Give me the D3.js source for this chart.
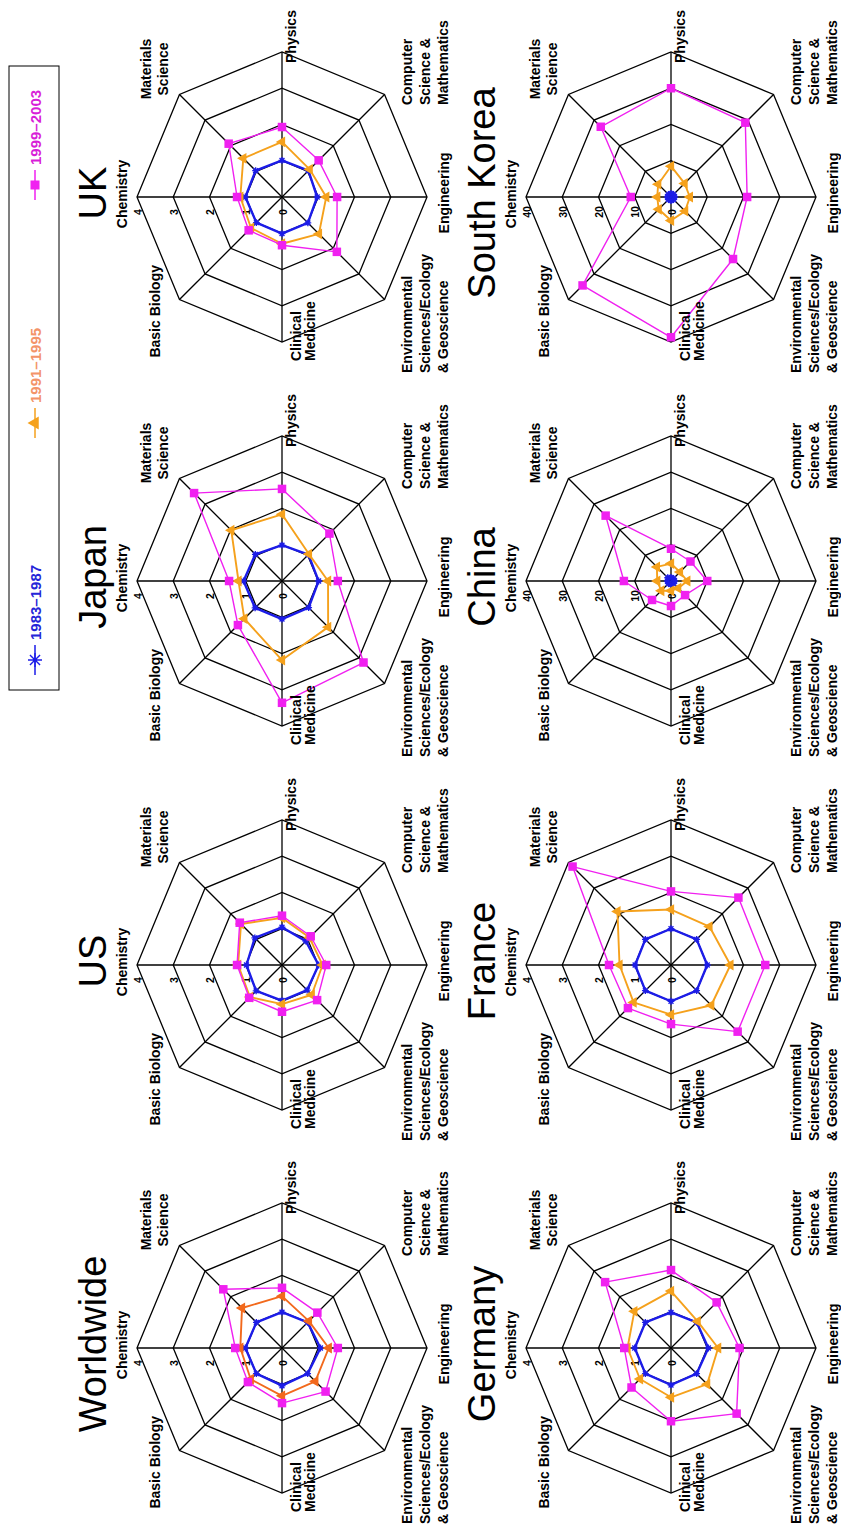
<!DOCTYPE html>
<html>
<head>
<meta charset="utf-8">
<script src="https://cdn.jsdelivr.net/npm/d3@7"></script>
<style>
  html, body { margin: 0; padding: 0; background: #fff; }
  svg { display: block; }
  text { font-family: "Liberation Sans", Arial, Helvetica, sans-serif; }
</style>
</head>
<body>
<svg id="fig" width="841" height="1534"></svg>
<script>
// ---- data -------------------------------------------------------------
// Field order (clockwise from the top spoke)
const fields = [
  "Chemistry", "Materials Science", "Physics", "Computer Science & Mathematics",
  "Engineering", "Environmental Sciences/Ecology & Geoscience",
  "Clinical Medicine", "Basic Biology"
];
const periods = ["1983\u20131987", "1991\u20131995", "1999\u20132003"];
const regions = ["Worldwide", "US", "Japan", "UK", "Germany", "France", "China", "South Korea"];
const regionMax = [4, 4, 4, 4, 4, 4, 40, 40];
const ticksSmall = ["0", "1", "2", "3", "4"];
const ticksLarge = ["0", "10", "20", "30", "40"];

// one row per period: 1983–1987, 1991–1995, 1999–2003
const worldwide = [
  [1.01, 1.00, 0.99, 1.00, 1.06, 1.00, 1.04, 1.00],
  [1.15, 1.56, 1.43, 1.05, 1.29, 1.30, 1.32, 1.22],
  [1.29, 2.29, 1.66, 1.38, 1.54, 1.70, 1.52, 1.33]
];
const us = [
  [0.98, 1.06, 1.04, 0.93, 1.01, 0.98, 0.98, 1.01],
  [1.21, 1.60, 1.30, 1.07, 1.12, 1.16, 1.08, 1.25],
  [1.24, 1.65, 1.36, 1.12, 1.22, 1.37, 1.29, 1.28]
];
const japan = [
  [1.06, 1.04, 0.99, 1.03, 1.01, 1.04, 1.05, 1.05],
  [1.20, 1.98, 1.84, 1.05, 1.27, 1.80, 2.18, 1.47],
  [1.46, 3.43, 2.54, 1.85, 1.54, 3.18, 3.36, 1.72]
];
const uk = [
  [1.01, 1.03, 1.01, 1.03, 0.97, 1.01, 1.01, 1.00],
  [1.15, 1.51, 1.52, 1.08, 1.22, 1.44, 1.29, 1.21],
  [1.24, 2.08, 1.93, 1.43, 1.52, 2.14, 1.33, 1.30]
];
const germany = [
  [1.00, 1.00, 0.98, 1.00, 1.03, 1.00, 1.02, 1.00],
  [1.20, 1.43, 1.57, 1.04, 1.30, 1.41, 1.36, 1.21],
  [1.29, 2.57, 2.15, 1.78, 1.89, 2.56, 2.02, 1.54]
];
const france = [
  [0.99, 1.00, 1.00, 1.00, 1.00, 1.00, 1.00, 1.00],
  [1.42, 2.09, 1.53, 1.50, 1.64, 1.57, 1.37, 1.46],
  [1.71, 3.84, 2.03, 2.63, 2.60, 2.60, 1.63, 1.68]
];
const china = [
  [1.0, 1.3, 1.0, 1.0, 1.0, 1.0, 1.0, 1.0],
  [3.8, 5.5, 4.8, 3.5, 4.5, 2.8, 2.7, 3.8],
  [13.0, 25.5, 8.9, 7.6, 10.0, 5.5, 6.9, 7.4]
];
const southKorea = [
  [1.0, 1.0, 1.0, 1.0, 1.0, 1.0, 1.0, 1.0],
  [3.8, 5.0, 8.5, 5.3, 5.2, 5.5, 6.5, 4.8],
  [11.1, 27.4, 30.0, 29.0, 21.0, 24.2, 38.7, 34.5]
];
const regionData = [worldwide, us, japan, uk, germany, france, china, southKorea];

// ---- styling / layout ---------------------------------------------------
const W = 1534, H = 841;           // figure drawn landscape, then turned
const colX = [186, 569, 953, 1337];
const rowY = [282, 671];
const R = 145;
const periodColors = ["#1c1ce8", "#f5a11c", "#f020f0"];
const worldwideOrange = "#f2691c";
const periodWidths = [2.4, 1.9, 1.4];
const labelFont = 14;

// multi-line field labels and where they sit relative to a chart centre
const fieldLabels = [
  { lines: ["Chemistry"], anchor: "middle", dx: 3, dy: -155, lh: 0 },
  { lines: ["Materials", "Science"], anchor: "middle", dx: 128, dy: -131, lh: 17 },
  { lines: ["Physics"], anchor: "start", dx: 134, dy: 14, lh: 0 },
  { lines: ["Computer", "Science &", "Mathematics"], anchor: "start", dx: 92, dy: 130, lh: 18 },
  { lines: ["Engineering"], anchor: "middle", dx: 4, dy: 167, lh: 0 },
  { lines: ["Environmental", "Sciences/Ecology", "& Geoscience"], anchor: "start", dx: -176, dy: 130, lh: 18 },
  { lines: ["Clinical", "Medicine"], anchor: "start", dx: -164, dy: 19, lh: 14 },
  { lines: ["Basic Biology"], anchor: "end", dx: -68, dy: -122, lh: 0 }
];

const svg = d3.select("#fig");
svg.append("rect").attr("width", 841).attr("height", 1534).attr("fill", "#fff");
// landscape page turned a quarter turn counter-clockwise
const page = svg.append("g").attr("transform", `translate(0,${W}) rotate(-90)`);

const angle = i => i * 2 * Math.PI / fields.length;
const px = (a, r) => Math.sin(a) * r;
const py = (a, r) => -Math.cos(a) * r;

function starPath(s) {
  const d = s * 0.72;
  return `M${-s},0L${s},0M0,${-s}L0,${s}M${-d},${-d}L${d},${d}M${-d},${d}L${d},${-d}`;
}

function drawMarker(sel, kind, x, y, color, size) {
  if (kind === 0) {
    sel.append("path").attr("d", starPath(size)).attr("transform", `translate(${x},${y})`)
      .attr("stroke", color).attr("stroke-width", 1.4).attr("fill", "none");
  } else if (kind === 1) {
    sel.append("path").attr("d", d3.symbol(d3.symbolTriangle, size * size * 0.9)())
      .attr("transform", `translate(${x},${y})`).attr("fill", color);
  } else {
    sel.append("rect").attr("x", x - size / 2).attr("y", y - size / 2)
      .attr("width", size).attr("height", size).attr("fill", color);
  }
}

regions.forEach((name, idx) => {
  const cx = colX[idx % 4], cy = rowY[Math.floor(idx / 4)];
  const maxV = regionMax[idx];
  const ticks = maxV > 4 ? ticksLarge : ticksSmall;
  const r = d3.scaleLinear().domain([0, maxV]).range([0, R]);
  const g = page.append("g").attr("transform", `translate(${cx},${cy})`);

  const ring = d3.lineRadial()
    .angle((d, i) => angle(i))
    .radius(d => r(d))
    .curve(d3.curveLinearClosed);

  // grid rings
  ticks.slice(1).forEach(t => {
    g.append("path").attr("d", ring(fields.map(() => +t)))
      .attr("fill", "none").attr("stroke", "#000").attr("stroke-width", 1.3);
  });
  // spokes
  fields.forEach((f, i) => {
    g.append("line").attr("x1", 0).attr("y1", 0)
      .attr("x2", px(angle(i), r(maxV))).attr("y2", py(angle(i), r(maxV)))
      .attr("stroke", "#000").attr("stroke-width", 1.3);
  });
  // radial tick labels along the top spoke
  ticks.forEach(t => {
    g.append("text").attr("x", -15).attr("y", -r(+t) + 4.5)
      .attr("text-anchor", "middle").attr("font-size", 10.5).attr("font-weight", "bold")
      .text(t);
  });

  // series
  regionData[idx].forEach((vals, p) => {
    const color = (p === 1 && idx === 0) ? worldwideOrange : periodColors[p];
    g.append("path").attr("d", ring(vals)).attr("fill", "none")
      .attr("stroke", color).attr("stroke-width", periodWidths[p])
      .attr("stroke-linejoin", "round");
    vals.forEach((v, i) => {
      const a = angle(i);
      drawMarker(g, p, px(a, r(v)), py(a, r(v)), color, [3.4, 7.5, 8.5][p]);
    });
  });

  // field labels
  fieldLabels.forEach((L, i) => {
    const t = g.append("text").attr("text-anchor", L.anchor)
      .attr("font-size", labelFont).attr("font-weight", "bold");
    L.lines.forEach((ln, k) => {
      t.append("tspan").attr("x", L.dx).attr("y", L.dy + k * L.lh).text(ln);
    });
  });

  // title
  g.append("text").attr("x", 4).attr("y", -176).attr("text-anchor", "middle")
    .attr("font-size", 38).text(name);
});

// legend
const legend = page.append("g");
legend.append("rect").attr("x", 844).attr("y", 9).attr("width", 624).attr("height", 50)
  .attr("fill", "#fff").attr("stroke", "#000").attr("stroke-width", 1);
const legendX = [874, 1111, 1349];
const legendText = ["#2525d8", "#f39468", "#d81ed8"];
periods.forEach((p, i) => {
  const x = legendX[i], y = 35;
  legend.append("line").attr("x1", x - 15).attr("x2", x + 15).attr("y1", y).attr("y2", y)
    .attr("stroke", periodColors[i]).attr("stroke-width", 1.5);
  drawMarker(legend, i, x, y, periodColors[i], [7, 9, 9][i]);
  legend.append("text").attr("x", x + 20).attr("y", y + 6).attr("font-size", 15)
    .attr("font-weight", "bold").attr("fill", legendText[i]).text(p);
});
</script>
</body>
</html>
